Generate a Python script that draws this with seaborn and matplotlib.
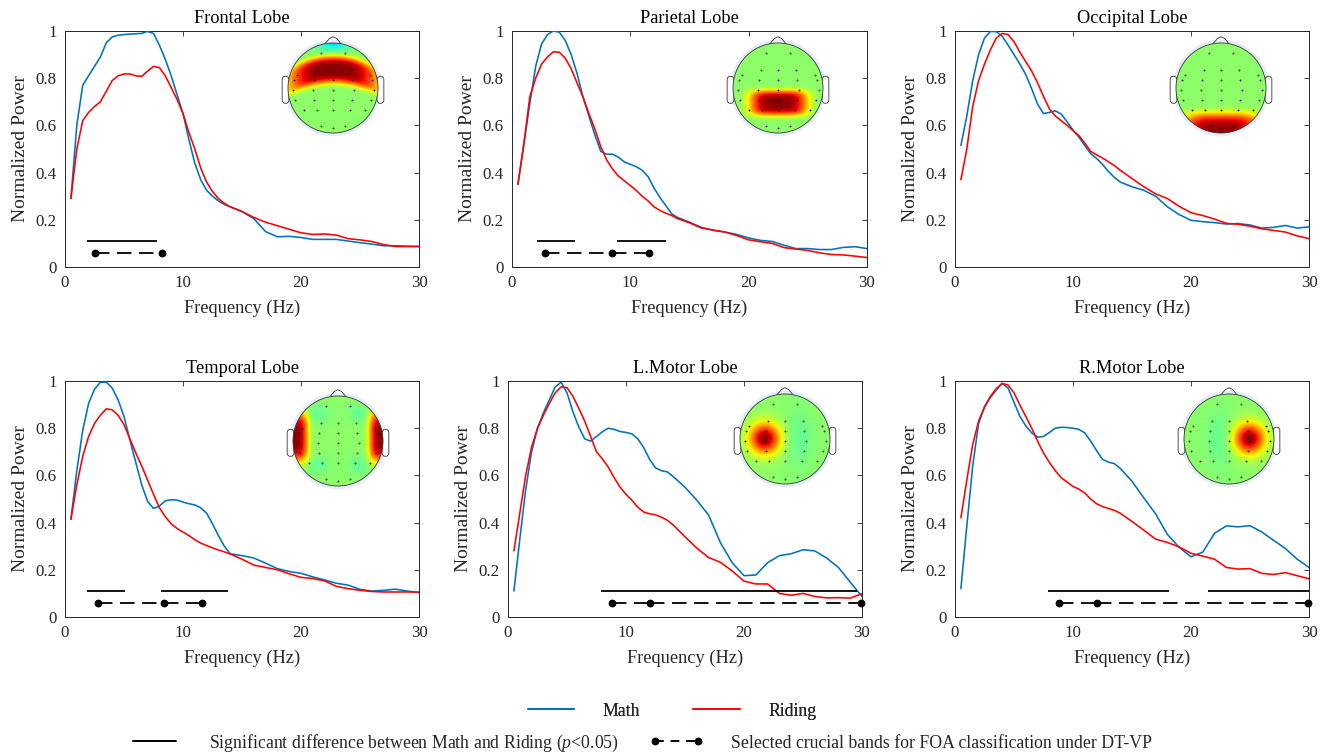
import numpy as np
import pandas as pd
import matplotlib
matplotlib.use("Agg")
import matplotlib.pyplot as plt
from matplotlib.lines import Line2D
from matplotlib.patches import Circle, FancyBboxPatch
import seaborn as sns

# ---------------- data ----------------
freq = [0.5, 1, 1.5, 2, 2.5, 3, 3.5, 4, 4.5, 5, 5.5, 6, 6.5, 7, 7.5, 8, 8.5, 9, 9.5, 10,
        10.5, 11, 11.5, 12, 12.5, 13, 13.5, 14, 15, 16, 17, 18, 19, 20, 21, 22, 23, 24,
        25, 26, 27, 28, 29, 30]

frontal_math = [0.29, 0.60, 0.77, 0.81, 0.85, 0.89, 0.95, 0.975, 0.982, 0.985, 0.987, 0.988,
                0.99, 0.998, 0.99, 0.94, 0.88, 0.81, 0.73, 0.65, 0.54, 0.44, 0.37, 0.325, 0.30,
                0.28, 0.265, 0.255, 0.235, 0.205, 0.15, 0.128, 0.13, 0.125, 0.117, 0.117, 0.117,
                0.11, 0.103, 0.097, 0.09, 0.09, 0.088, 0.087]
frontal_riding = [0.29, 0.50, 0.62, 0.655, 0.68, 0.70, 0.745, 0.79, 0.81, 0.818, 0.818, 0.81,
                  0.808, 0.83, 0.85, 0.845, 0.81, 0.76, 0.71, 0.65, 0.57, 0.50, 0.42, 0.36, 0.32,
                  0.29, 0.27, 0.255, 0.235, 0.21, 0.19, 0.175, 0.16, 0.145, 0.138, 0.14, 0.135,
                  0.12, 0.115, 0.108, 0.095, 0.087, 0.087, 0.087]
parietal_math = [0.35, 0.52, 0.69, 0.85, 0.945, 0.985, 1.0, 0.995, 0.96, 0.90, 0.82, 0.72, 0.64,
                 0.56, 0.49, 0.478, 0.478, 0.465, 0.445, 0.435, 0.425, 0.41, 0.383, 0.335, 0.295,
                 0.26, 0.225, 0.21, 0.19, 0.168, 0.155, 0.148, 0.138, 0.123, 0.113, 0.108, 0.092,
                 0.078, 0.078, 0.074, 0.074, 0.083, 0.086, 0.078]
parietal_riding = [0.35, 0.52, 0.72, 0.80, 0.86, 0.89, 0.912, 0.91, 0.885, 0.84, 0.78, 0.72, 0.65,
                   0.585, 0.51, 0.454, 0.415, 0.385, 0.365, 0.345, 0.325, 0.30, 0.28, 0.255, 0.24,
                   0.228, 0.218, 0.205, 0.187, 0.165, 0.157, 0.148, 0.133, 0.115, 0.107, 0.10,
                   0.082, 0.076, 0.07, 0.06, 0.053, 0.051, 0.046, 0.04]
occipital_math = [0.515, 0.64, 0.79, 0.90, 0.97, 0.998, 0.997, 0.978, 0.94, 0.90, 0.86, 0.815,
                  0.755, 0.69, 0.65, 0.655, 0.662, 0.648, 0.615, 0.58, 0.55, 0.515, 0.48, 0.46,
                  0.435, 0.405, 0.38, 0.36, 0.34, 0.325, 0.30, 0.255, 0.222, 0.198, 0.192, 0.188,
                  0.182, 0.184, 0.178, 0.165, 0.168, 0.176, 0.165, 0.17]
occipital_riding = [0.37, 0.50, 0.68, 0.79, 0.86, 0.92, 0.97, 0.99, 0.985, 0.955, 0.91, 0.87,
                    0.83, 0.78, 0.723, 0.67, 0.64, 0.62, 0.60, 0.578, 0.557, 0.525, 0.49, 0.475,
                    0.462, 0.446, 0.43, 0.41, 0.375, 0.34, 0.31, 0.29, 0.257, 0.23, 0.218, 0.203,
                    0.185, 0.181, 0.173, 0.162, 0.155, 0.148, 0.132, 0.12]
temporal_math = [0.414, 0.62, 0.79, 0.905, 0.965, 0.995, 0.995, 0.97, 0.92, 0.85, 0.75, 0.655,
                 0.56, 0.49, 0.46, 0.47, 0.492, 0.497, 0.495, 0.487, 0.48, 0.475, 0.463, 0.44,
                 0.395, 0.345, 0.30, 0.268, 0.26, 0.25, 0.228, 0.205, 0.193, 0.185, 0.17, 0.157,
                 0.143, 0.135, 0.117, 0.11, 0.113, 0.118, 0.11, 0.103]
temporal_riding = [0.414, 0.56, 0.68, 0.765, 0.82, 0.855, 0.882, 0.878, 0.855, 0.815, 0.755,
                   0.695, 0.64, 0.58, 0.52, 0.463, 0.425, 0.395, 0.375, 0.36, 0.345, 0.328, 0.313,
                   0.303, 0.293, 0.284, 0.276, 0.267, 0.245, 0.22, 0.21, 0.20, 0.183, 0.168, 0.163,
                   0.153, 0.13, 0.12, 0.113, 0.108, 0.106, 0.106, 0.106, 0.106]
lmotor_math = [0.11, 0.33, 0.54, 0.70, 0.80, 0.865, 0.92, 0.975, 0.995, 0.95, 0.87, 0.805, 0.755,
               0.745, 0.765, 0.785, 0.80, 0.795, 0.786, 0.782, 0.776, 0.755, 0.718, 0.668, 0.632,
               0.62, 0.615, 0.595, 0.55, 0.495, 0.432, 0.315, 0.23, 0.175, 0.178, 0.23, 0.26,
               0.268, 0.285, 0.28, 0.25, 0.21, 0.148, 0.087]
lmotor_riding = [0.28, 0.44, 0.60, 0.72, 0.80, 0.855, 0.905, 0.95, 0.975, 0.972, 0.935, 0.885,
                 0.83, 0.765, 0.70, 0.67, 0.635, 0.59, 0.55, 0.52, 0.495, 0.465, 0.445, 0.437,
                 0.433, 0.423, 0.41, 0.39, 0.34, 0.292, 0.252, 0.232, 0.195, 0.152, 0.14, 0.14,
                 0.10, 0.092, 0.10, 0.087, 0.081, 0.082, 0.08, 0.099]
rmotor_math = [0.12, 0.385, 0.64, 0.82, 0.89, 0.93, 0.962, 0.99, 0.97, 0.91, 0.85, 0.81, 0.78,
               0.762, 0.765, 0.782, 0.80, 0.804, 0.803, 0.80, 0.795, 0.78, 0.745, 0.705, 0.668,
               0.656, 0.65, 0.63, 0.575, 0.505, 0.437, 0.35, 0.295, 0.255, 0.275, 0.355, 0.386,
               0.382, 0.387, 0.36, 0.325, 0.29, 0.245, 0.21]
rmotor_riding = [0.42, 0.58, 0.73, 0.83, 0.89, 0.935, 0.968, 0.99, 0.983, 0.95, 0.898, 0.85,
                 0.80, 0.745, 0.695, 0.655, 0.62, 0.59, 0.572, 0.553, 0.542, 0.525, 0.50, 0.48,
                 0.468, 0.46, 0.452, 0.44, 0.405, 0.368, 0.33, 0.316, 0.297, 0.27, 0.258, 0.245,
                 0.21, 0.203, 0.205, 0.185, 0.18, 0.188, 0.175, 0.162]

titles = ["Frontal Lobe", "Parietal Lobe", "Occipital Lobe",
          "Temporal Lobe", "L.Motor Lobe", "R.Motor Lobe"]

# significant-difference bands (Hz) and selected crucial band points (Hz)
frontal_sig = [(1.85, 7.8)]
parietal_sig = [(2.1, 5.35), (8.85, 13.0)]
occipital_sig = []
temporal_sig = [(1.85, 5.1), (8.15, 13.85)]
lmotor_sig = [(7.9, 29.6)]
rmotor_sig = [(7.9, 18.1), (21.4, 30.0)]

frontal_sel = [2.55, 8.2]
parietal_sel = [2.8, 8.45, 11.55]
occipital_sel = []
temporal_sel = [2.8, 8.4, 11.6]
lmotor_sel = [8.85, 12.0, 29.95]
rmotor_sel = [8.8, 12.0, 29.9]

# topographic map hotspots: (cx, cy, sx, sy, amplitude, exponent, curvature)
frontal_topo = [(0, 0.40, 1.0, 0.30, 0.47, 4, 0.28), (0, 1.02, 0.38, 0.2, -0.2, 2, 0)]
parietal_topo = [(0, -0.34, 0.64, 0.28, 0.47, 4, 0)]
occipital_topo = [(0, -1.0, 0.85, 0.43, 0.46, 4, 0)]
temporal_topo = [(-1.02, 0.08, 0.34, 0.55, 0.47, 4, 0), (1.02, 0.08, 0.34, 0.55, 0.47, 4, 0),
                 (-0.45, 0.6, 0.22, 0.18, -0.05, 2, 0), (0.45, 0.6, 0.22, 0.18, -0.05, 2, 0),
                 (-0.45, -0.55, 0.22, 0.18, -0.05, 2, 0), (0.45, -0.55, 0.22, 0.18, -0.05, 2, 0)]
lmotor_topo = [(-0.46, 0.0, 0.34, 0.34, 0.47, 2, 0), (0.3, 0.0, 0.3, 0.6, -0.05, 2, 0)]
rmotor_topo = [(0.44, 0.0, 0.34, 0.34, 0.47, 2, 0), (-0.2, 0.0, 0.3, 0.6, -0.05, 2, 0)]

elec_x = [-0.27, 0.27, -0.8, -0.37, 0, 0.4, 0.83, -0.86, -0.43, 0, 0.43, 0.86,
          -0.9, -0.45, 0, 0.46, 0.9, -0.84, -0.43, 0, 0.43, 0.84,
          -0.65, -0.36, 0, 0.38, 0.7, -0.27, 0, 0.27]
elec_y = [0.78, 0.78, 0.3, 0.4, 0.4, 0.4, 0.3, 0.18, 0.18, 0.18, 0.18, 0.18,
          -0.04, -0.04, -0.04, -0.04, -0.04, -0.27, -0.27, -0.27, -0.27, -0.27,
          -0.49, -0.49, -0.49, -0.49, -0.49, -0.85, -0.89, -0.85]

math_series = [frontal_math, parietal_math, occipital_math, temporal_math, lmotor_math, rmotor_math]
riding_series = [frontal_riding, parietal_riding, occipital_riding, temporal_riding,
                 lmotor_riding, rmotor_riding]
sig_list = [frontal_sig, parietal_sig, occipital_sig, temporal_sig, lmotor_sig, rmotor_sig]
sel_list = [frontal_sel, parietal_sel, occipital_sel, temporal_sel, lmotor_sel, rmotor_sel]
topo_list = [frontal_topo, parietal_topo, occipital_topo, temporal_topo, lmotor_topo, rmotor_topo]

# ---------------- style ----------------
sns.set_style("white")
plt.rcParams["font.family"] = ["Liberation Serif", "DejaVu Serif"]
plt.rcParams["mathtext.fontset"] = "custom"
plt.rcParams["mathtext.it"] = "Liberation Serif:italic"
plt.rcParams["mathtext.rm"] = "Liberation Serif"

BLUE = "#0072BD"
RED = "#FF0000"
AXC = "#262626"

W, H = 1320, 755
fig = plt.figure(figsize=(W / 100, H / 100), dpi=100)

# axes boxes in pixels: (left, top, right, bottom)
boxes = [(65, 31, 419, 267), (512, 31, 867, 267), (955, 31, 1309, 267),
         (65, 381, 419, 617), (508, 381, 862, 617), (955, 381, 1309, 617)]
heads = [(333, 88), (778, 88), (1221, 88), (338, 441), (785, 439), (1229, 439)]


def px_axes(l, t, r, b):
    return fig.add_axes([l / W, 1 - b / H, (r - l) / W, (b - t) / H])


def draw_head(cx, cy, spots, rad_px=45):
    lim = 1.3
    size = 2 * lim * rad_px
    ax = fig.add_axes([(cx - size / 2) / W, 1 - (cy + size / 2) / H, size / W, size / H])
    ax.set_xlim(-lim, lim)
    ax.set_ylim(-lim, lim)
    ax.axis("off")
    g = np.linspace(-1.05, 1.05, 320)
    X, Y = np.meshgrid(g, g)
    Z = np.full_like(X, 0.52)
    for (sx0, sy0, sx, sy, amp, p, k) in spots:
        dy = Y - sy0 + k * X ** 2
        Z = Z + amp * np.exp(-(np.abs((X - sx0) / sx) ** p + np.abs(dy / sy) ** p))
    ax.add_patch(Circle((0, 0), 1.075, facecolor="#e6edf8", edgecolor="none", zorder=0))
    for sgn in (-1, 1):
        ax.add_patch(FancyBboxPatch((sgn * 1.055 - 0.075, -0.34), 0.15, 0.6,
                                    boxstyle="round,pad=0,rounding_size=0.07",
                                    facecolor="white", edgecolor="#333333", lw=0.6, zorder=1))
    ax.plot([-0.19, -0.08, 0.0, 0.08, 0.19], [0.97, 1.10, 1.14, 1.10, 0.97],
            color="#333333", lw=0.6, zorder=1)
    ax.add_patch(Circle((0, 0), 1.0, facecolor="white", edgecolor="none", zorder=1.5))
    im = ax.imshow(Z, extent=[-1.05, 1.05, -1.05, 1.05], origin="lower", cmap="jet",
                   vmin=0, vmax=1, zorder=2, interpolation="bilinear")
    im.set_clip_path(Circle((0, 0), 1.0, transform=ax.transData))
    ax.add_patch(Circle((0, 0), 1.0, facecolor="none", edgecolor="#333333", lw=0.6, zorder=3))
    ax.scatter(elec_x, elec_y, s=1.6, color="black", zorder=4, linewidths=0)


for i in range(6):
    ax = px_axes(*boxes[i])
    df = pd.DataFrame({
        "Frequency (Hz)": freq + freq,
        "Normalized Power": math_series[i] + riding_series[i],
        "Condition": ["Math"] * len(freq) + ["Riding"] * len(freq),
    })
    sns.lineplot(data=df, x="Frequency (Hz)", y="Normalized Power", hue="Condition",
                 palette={"Math": BLUE, "Riding": RED}, estimator=None, lw=1.15,
                 legend=False, ax=ax, zorder=3)
    for (a, b) in sig_list[i]:
        ax.plot([a, b], [0.11, 0.11], color="black", lw=1.3, solid_capstyle="butt", zorder=4)
    sel = sel_list[i]
    for j in range(len(sel) - 1):
        ax.plot([sel[j], sel[j + 1]], [0.06, 0.06], color="black", lw=1.3,
                dashes=(8, 4.2), zorder=4, clip_on=False)
    if sel:
        ax.plot(sel, [0.06] * len(sel), "o", color="black", ms=4.6, zorder=5, clip_on=False)
    ax.set_xlim(0, 30)
    ax.set_ylim(0, 1)
    ax.set_xticks([0, 10, 20, 30])
    ax.set_xticklabels(["0", "10", "20", "30"])
    ax.set_yticks([0, 0.2, 0.4, 0.6, 0.8, 1.0])
    ax.set_yticklabels(["0", "0.2", "0.4", "0.6", "0.8", "1"])
    ax.tick_params(direction="in", length=3.5, width=0.6, colors=AXC, labelsize=12.2,
                   top=True, right=True, pad=6)
    for sp in ax.spines.values():
        sp.set_color(AXC)
        sp.set_linewidth(0.7)
    ax.set_xlabel("Frequency (Hz)", fontsize=13.2, color=AXC, labelpad=6)
    ax.set_ylabel("Normalized Power", fontsize=14, color=AXC, labelpad=5)
    ax.set_title(titles[i], fontsize=13.2, color="black", pad=6)
    draw_head(heads[i][0], heads[i][1], topo_list[i])

# ---------------- legends ----------------
h1 = [Line2D([], [], color=BLUE, lw=1.3), Line2D([], [], color=RED, lw=1.3)]
leg1 = fig.legend(h1, ["Math", "Riding"], loc="center", bbox_to_anchor=(672 / W, 1 - 711 / H),
                  ncol=2, frameon=False, fontsize=12.8, handlelength=2.6, handletextpad=1.6,
                  columnspacing=3.0)
h2 = [Line2D([], [], color="black", lw=1.4),
      Line2D([], [], color="black", lw=1.4, dashes=(4.5, 3.5), marker="o", ms=4.6)]
fig.legend(h2, [r"Significant difference between Math and Riding ($\it{p}$<0.05)",
                "Selected crucial bands for FOA classification under DT-VP"],
           loc="center", bbox_to_anchor=(640 / W, 1 - 743 / H), ncol=2, frameon=False,
           fontsize=12.8, handlelength=3.0, handletextpad=1.6, columnspacing=1.7, numpoints=2)
fig.add_artist(leg1)

fig.savefig("out.png", dpi=100)
